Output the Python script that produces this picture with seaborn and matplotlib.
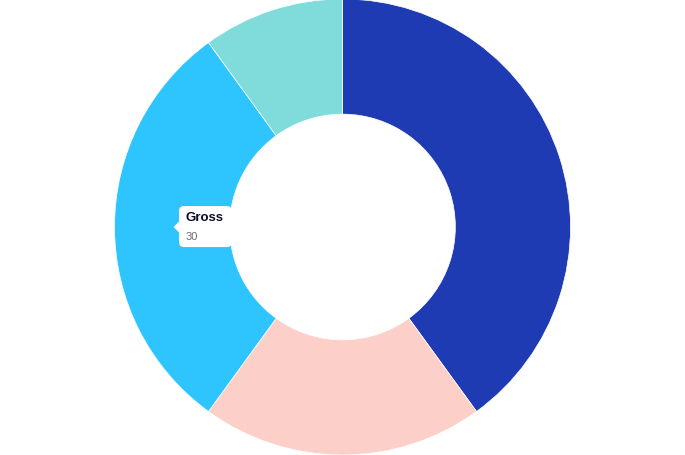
import numpy as np
import seaborn as sns
import matplotlib.pyplot as plt
from matplotlib.patches import FancyBboxPatch, Polygon

# slice data, clockwise from 12 o'clock
labels = ['Net', 'Tax', 'Gross', 'Other']
values = [40, 20, 30, 10]
colors = ['#1E3BB3', '#FCD0C9', '#2EC5FE', '#80DBDB']

# hovered slice shown in the tooltip
hover_idx = 2

sns.set_theme(style='white')
plt.rcParams['font.family'] = ['Liberation Sans', 'DejaVu Sans']

fig = plt.figure(figsize=(6.85, 4.56), dpi=100)
ax = fig.add_axes([0, 0, 1, 1])

ax.pie(values, colors=colors, startangle=90, counterclock=False,
       radius=1.0, wedgeprops=dict(width=0.505, edgecolor='white', linewidth=0.5))

ax.set_aspect('equal')
ax.set_xlim(-1.502, 1.502)
ax.set_ylim(-1.0, 1.0)
ax.axis('off')

# tooltip box
x0, x1 = -0.717, -0.485
y0, y1 = -0.088, 0.092
box = FancyBboxPatch((x0, y0), x1 - x0, y1 - y0,
                     boxstyle='round,pad=0,rounding_size=0.022',
                     facecolor='white', edgecolor='none', zorder=5)
ax.add_patch(box)
tip = Polygon([[x0 - 0.024, 0.0], [x0 + 0.002, 0.026], [x0 + 0.002, -0.026]],
              closed=True, facecolor='white', edgecolor='none', zorder=5)
ax.add_patch(tip)
ax.text(x0 + 0.029, 0.044, labels[hover_idx], fontsize=9.5, fontweight='bold',
        color='#0B0B2E', va='center', ha='left', zorder=6)
ax.text(x0 + 0.029, -0.040, str(values[hover_idx]), fontsize=8,
        color='#6B6B6B', va='center', ha='left', zorder=6)

fig.savefig('out.png', dpi=100, facecolor='white')
